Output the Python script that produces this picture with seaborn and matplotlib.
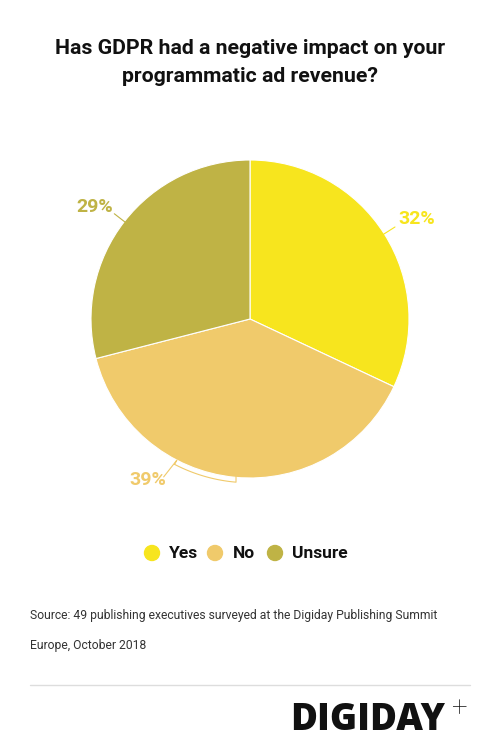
import numpy as np
import matplotlib
matplotlib.use("Agg")
import matplotlib.pyplot as plt
import seaborn as sns

categories = ["Yes", "No", "Unsure"]
values = [32, 39, 29]
colors = ["#F7E51E", "#F0CA6B", "#BFB345"]

sns.set_theme(style="white")
plt.rcParams['font.family'] = ['Roboto', 'DejaVu Sans']

fig = plt.figure(figsize=(5, 7.54), dpi=100)
W, H = 500, 754

# Title
fig.text(0.5, 1 - 48 / H, "Has GDPR had a negative impact on your", ha="center", va="center",
         fontsize=15.3, fontweight="bold", color="#111111")
fig.text(0.5, 1 - 76 / H, "programmatic ad revenue?", ha="center", va="center",
         fontsize=15.3, fontweight="bold", color="#111111")

# Pie axes
R = 159
lim = 1.3
side = 2 * lim * R
cx, cy = 250, 319
ax = fig.add_axes([(cx - side / 2) / W, (H - cy - side / 2) / H, side / W, side / H])
wedges, _ = ax.pie(values, colors=colors, startangle=90, counterclock=False, radius=1,
                   wedgeprops=dict(edgecolor="white", linewidth=0.8))
ax.set_xlim(-lim, lim)
ax.set_ylim(-lim, lim)
ax.set_aspect("equal")
ax.axis("off")

total = sum(values)
start = 90.0
for i, (v, c) in enumerate(zip(values, colors)):
    span = 360.0 * v / total
    mid = start - span / 2
    start -= span
    lab = f"{v}%"
    if categories[i] == "No":
        la = np.deg2rad(mid - 27)
        lx, ly = 1.2 * np.cos(la), 1.2 * np.sin(la)
        ax.text(lx, ly, lab, ha="center", va="center", fontsize=14, fontweight="bold", color=c)
        # bracket leader
        a1 = np.deg2rad(mid - 22)
        a2 = np.deg2rad(mid + 0.5)
        angs = np.linspace(a1, a2, 30)
        rr = 1.03
        xs = list(rr * np.cos(angs))
        ys = list(rr * np.sin(angs))
        xs = [lx + 0.1] + [1.0 * np.cos(a1)] + xs + [xs[-1]]
        ys = [ly + 0.02] + [1.0 * np.sin(a1)] + ys + [ys[-1] + 0.04]
        ax.plot(xs, ys, color=c, lw=0.8)
    else:
        if categories[i] == "Unsure":
            a = np.deg2rad(mid + 2)
            d = 1.2
        else:
            a = np.deg2rad(mid - 1.5)
            d = 1.22
        lx, ly = d * np.cos(a), d * np.sin(a)
        ax.text(lx, ly, lab, ha="center", va="center", fontsize=14, fontweight="bold", color=c)
        am = np.deg2rad(mid)
        ax.plot([0.99 * np.cos(am), 1.08 * np.cos(am)], [0.99 * np.sin(am), 1.08 * np.sin(am)],
                color=c, lw=0.8)

# Legend
leg_y = 1 - 553 / H
items = [(152, 169), (215, 233), (275, 292)]
for (mx, tx), cat, c in zip(items, categories, colors):
    fig.patches.append(matplotlib.patches.Ellipse((mx / W, leg_y), 15 / W, 15 / H,
                                                  transform=fig.transFigure, color=c))
    fig.text(tx / W, leg_y, cat, ha="left", va="center", fontsize=12.5,
             fontweight="bold", color="#111111")

# Source
fig.text(30 / W, 1 - 615 / H, "Source: 49 publishing executives surveyed at the Digiday Publishing Summit",
         ha="left", va="center", fontsize=8.75, color="#333333")
fig.text(30 / W, 1 - 645 / H, "Europe, October 2018",
         ha="left", va="center", fontsize=8.75, color="#333333")

# Rule
fig.add_artist(matplotlib.lines.Line2D([30 / W, 470 / W], [1 - 685 / H] * 2,
                                       color="#DDDDDD", lw=1, transform=fig.transFigure))

# Logo
fig.text(445 / W, 1 - 721 / H, "DIGIDAY", ha="right", va="center", fontsize=26.5,
         fontweight="heavy", color="#111111", family=["Open Sans", "DejaVu Sans"])
fig.text(459 / W, 1 - 709 / H, "+", ha="center", va="center", fontsize=20,
         fontweight="light", color="#111111")

fig.savefig("out.png", dpi=100, facecolor="white")
